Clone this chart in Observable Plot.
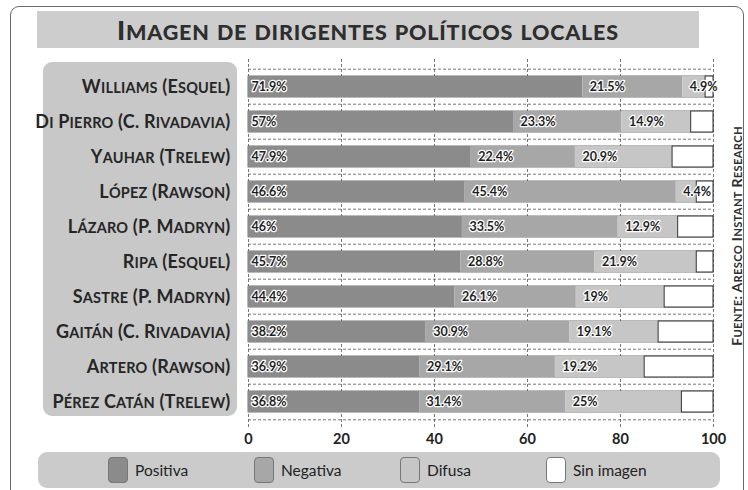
<!DOCTYPE html>
<html>
<head>
<meta charset="utf-8">
<script src="https://cdn.jsdelivr.net/npm/d3@7"></script>
<script src="https://cdn.jsdelivr.net/npm/@observablehq/plot@0.6"></script>
<style>
  body { margin: 0; background: #fff; font-family: Lato, "Open Sans", sans-serif; }
  #wrap { position: relative; width: 748px; height: 490px; overflow: hidden; background: #fff; }
  #frame { position: absolute; left: 10px; top: 6px; width: 732px; height: 530px; border: 1.5px solid #6a6a6a; border-radius: 9px; }
  #title { position: absolute; left: 37px; top: 11px; width: 662px; height: 37px; background: #cdcdcd;
           display: flex; align-items: center; justify-content: center;
           font-weight: 900; color: #2e2e2e; white-space: nowrap; }
  #title span.inner { letter-spacing: 0.8px; }
  #panel { position: absolute; left: 43px; top: 62px; width: 194px; height: 354px; background: #c8c8c8; border-radius: 9px; }
  #chart { position: absolute; left: 0; top: 0; }
  #legend { position: absolute; left: 38px; top: 452px; width: 682px; height: 36px; background: #cbcbcb; border-radius: 9px;
            display: flex; align-items: center; padding-left: 70px; box-sizing: border-box; }
  .item { display: flex; align-items: center; width: 146px; font-size: 15.5px; color: #222; }
  .sw { width: 20px; height: 26px; border-radius: 4px; border: 1px solid #777; margin-right: 7px; box-sizing: border-box; }
  #source { position: absolute; left: 735px; top: 236px; transform: translate(-50%, -50%) rotate(-90deg); white-space: nowrap;
            font-weight: bold; color: #2e2e2e; letter-spacing: 0.3px; }
</style>
</head>
<body>
<div id="wrap">
  <div id="frame"></div>
  <div id="title"><span class="inner"></span></div>
  <div id="panel"></div>
  <div id="chart"></div>
  <div id="legend"></div>
  <div id="source"></div>
</div>
<script>
const title = "Imagen de dirigentes políticos locales";
const source = "Fuente: Aresco Instant Research";
const names = ["Williams (Esquel)", "Di Pierro (C. Rivadavia)", "Yauhar (Trelew)", "López (Rawson)", "Lázaro (P. Madryn)",
               "Ripa (Esquel)", "Sastre (P. Madryn)", "Gaitán (C. Rivadavia)", "Artero (Rawson)", "Pérez Catán (Trelew)"];
const categories = ["Positiva", "Negativa", "Difusa", "Sin imagen"];
const positiva = [71.9, 57, 47.9, 46.6, 46, 45.7, 44.4, 38.2, 36.9, 36.8];
const negativa = [21.5, 23.3, 22.4, 45.4, 33.5, 28.8, 26.1, 30.9, 29.1, 31.4];
const difusa   = [4.9, 14.9, 20.9, 4.4, 12.9, 21.9, 19, 19.1, 19.2, 25];
const colors = ["#8b8b8b", "#a7a7a7", "#c6c6c6", "#ffffff"];
const xTicks = [0, 20, 40, 60, 80, 100];

// split a string into runs for hand-made small caps
function capsRuns(str) {
  const runs = [];
  for (const ch of str) {
    const lower = ch !== ch.toUpperCase();
    const kind = lower ? "s" : "b";
    const up = ch.toUpperCase();
    if (runs.length && runs[runs.length - 1].kind === kind) runs[runs.length - 1].t += up;
    else runs.push({kind, t: up});
  }
  return runs;
}
function htmlCaps(el, str, big, small) {
  el.textContent = "";
  for (const r of capsRuns(str)) {
    const s = document.createElement("span");
    s.style.fontSize = (r.kind === "b" ? big : small) + "px";
    s.textContent = r.t;
    el.appendChild(s);
  }
}
htmlCaps(document.querySelector("#title .inner"), title, 27, 21.5);
htmlCaps(document.getElementById("source"), source, 14, 11.2);

// long table; "Sin imagen" is the remainder to 100
const long = [];
names.forEach((name, i) => {
  const vals = [positiva[i], negativa[i], difusa[i]];
  vals.push(+(100 - vals.reduce((a, b) => a + b, 0)).toFixed(1));
  let s = 0;
  vals.forEach((v, j) => {
    long.push({name, cat: categories[j], value: v, start: s, end: s + v});
    s += v;
  });
});
const shown = long.filter(d => d.cat !== "Sin imagen");
const labelFirst = shown.filter(d => d.cat === "Positiva");
const labelRest = shown.filter(d => d.cat !== "Positiva");
const blank = long.filter(d => d.cat === "Sin imagen");

const dash = {stroke: "#555", strokeWidth: 0.8, strokeDasharray: "3,2"};
const labelStyle = {textAnchor: "start", fontSize: 12.5, fontWeight: "bold", fill: "#1e1e1e",
                    stroke: "white", strokeWidth: 2.5, paintOrder: "stroke"};

const chart = Plot.plot({
  width: 748,
  height: 490,
  marginLeft: 248,
  marginRight: 35,
  marginTop: 59,
  marginBottom: 61,
  style: {background: "transparent", fontFamily: "Lato, 'Open Sans', sans-serif", color: "#222"},
  x: {domain: [0, 100]},
  y: {domain: names, padding: 0.4},
  color: {domain: categories, range: colors},
  marks: [
    Plot.ruleX(xTicks, {...dash}),
    Plot.ruleY(names, {y: d => d, x1: 0, x2: 100, dy: -17.8, ...dash}),
    Plot.ruleY([names[names.length - 1]], {y: d => d, x1: 0, x2: 100, dy: 17.8, ...dash}),
    Plot.barX(names, {y: d => d, x1: 0, x2: 100, fill: "white", stroke: "#555", strokeWidth: 0.8}),
    Plot.barX(shown, {y: "name", x1: "start", x2: "end", fill: "cat"}),
    Plot.barX(blank, {y: "name", x1: "start", x2: "end", fill: "cat", stroke: "#333", strokeWidth: 1}),
    Plot.text(labelFirst, {y: "name", x: "start", text: d => d.value + "%", dx: 3, ...labelStyle}),
    Plot.text(labelRest, {y: "name", x: "start", text: d => d.value + "%", dx: 7, ...labelStyle}),
    Plot.axisX({ticks: xTicks, tickSize: 0, tickPadding: 4, fontSize: 14.5, fontWeight: "bold", anchor: "bottom", label: null}),
    Plot.axisY({tickSize: 0, tickPadding: 18, fontSize: 18, fontWeight: "bold", fill: "#262626", label: null})
  ]
});
// hand-made small caps on the y tick labels
chart.querySelectorAll('g[aria-label="y-axis tick label"] text').forEach(t => {
  const str = t.textContent;
  t.textContent = "";
  t.setAttribute("letter-spacing", "0.2");
  for (const r of capsRuns(str)) {
    const ts = document.createElementNS("http://www.w3.org/2000/svg", "tspan");
    ts.setAttribute("font-size", r.kind === "b" ? 18 : 14.5);
    ts.textContent = r.t;
    t.appendChild(ts);
  }
});
document.getElementById("chart").appendChild(chart);

// legend
const legend = document.getElementById("legend");
categories.forEach((c, i) => {
  const item = document.createElement("div");
  item.className = "item";
  const sw = document.createElement("div");
  sw.className = "sw";
  sw.style.background = colors[i];
  const t = document.createElement("span");
  t.textContent = c;
  item.appendChild(sw);
  item.appendChild(t);
  legend.appendChild(item);
});
</script>
</body>
</html>
